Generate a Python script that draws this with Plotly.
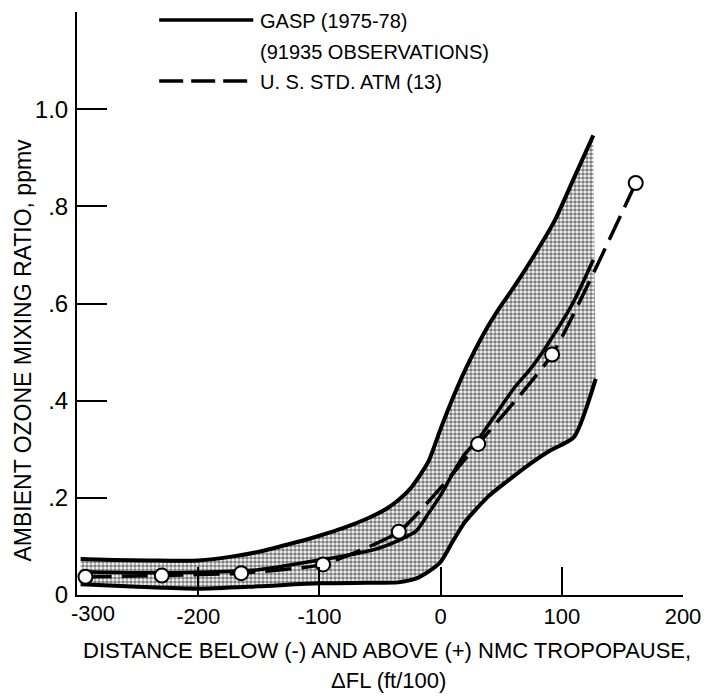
import plotly.graph_objects as go

# ---- data ----
upper_x = [-297, -270, -240, -200, -170, -150, -120, -100, -80, -60, -45, -35, -24, -10, 0, 10, 20, 36, 47, 60, 75, 94, 110, 126]
upper_y = [0.074, 0.072, 0.071, 0.071, 0.080, 0.089, 0.108, 0.122, 0.138, 0.158, 0.177, 0.195, 0.222, 0.275, 0.342, 0.405, 0.462, 0.54, 0.585, 0.632, 0.69, 0.77, 0.858, 0.946]

lower_x = [-297, -250, -200, -150, -100, -60, -35, -20, -10, 0, 10, 20, 39, 58, 75, 90, 110, 128]
lower_y = [0.022, 0.017, 0.013, 0.018, 0.024, 0.025, 0.026, 0.034, 0.048, 0.068, 0.11, 0.15, 0.202, 0.24, 0.272, 0.297, 0.325, 0.445]

gasp_x = [-297, -250, -200, -150, -100, -70, -50, -35, -20, -10, 0, 10, 20, 31, 45, 61, 75, 92, 110, 126]
gasp_y = [0.048, 0.046, 0.047, 0.052, 0.072, 0.085, 0.097, 0.112, 0.132, 0.168, 0.205, 0.25, 0.29, 0.32, 0.37, 0.427, 0.468, 0.53, 0.605, 0.69]

std_x = [-293, -230, -164.5, -97, -34.5, 31, 92, 161]
std_y = [0.0375, 0.040, 0.045, 0.063, 0.130, 0.311, 0.495, 0.848]

x_ticks = [-300, -200, -100, 0, 100, 200]
x_ticktext = ["", "-200", "-100", "0", "100", "200"]
x_first_label = "-300"
y_ticks = [0, 0.2, 0.4, 0.6, 0.8, 1.0]
y_ticktext = ["0", ".2", ".4", ".6", ".8", "1.0"]

legend_gasp = ["GASP (1975-78)", "(91935 OBSERVATIONS)"]
legend_std = "U. S. STD. ATM (13)"
x_title = ["DISTANCE BELOW (-) AND ABOVE (+) NMC TROPOPAUSE,", "ΔFL (ft/100)"]
y_title = "AMBIENT OZONE MIXING RATIO, ppmv"

FONT = "Liberation Sans, Arial, sans-serif"

fig = go.Figure()

# shaded envelope
fig.add_trace(go.Scatter(
    x=upper_x + lower_x[::-1], y=upper_y + lower_y[::-1],
    mode="lines", fill="toself", line=dict(width=0, color="rgba(0,0,0,0)"),
    fillcolor="rgba(0,0,0,0)",
    fillpattern=dict(shape=".", fgcolor="black", bgcolor="white", size=4, solidity=0.65),
    showlegend=False, hoverinfo="skip"))

for xs, ys in [(upper_x, upper_y), (lower_x, lower_y)]:
    fig.add_trace(go.Scatter(x=xs, y=ys, mode="lines", line=dict(color="black", width=4, shape="spline", smoothing=0.6),
                             showlegend=False))

fig.add_trace(go.Scatter(x=gasp_x, y=gasp_y, mode="lines",
                         line=dict(color="black", width=3.5, shape="spline", smoothing=0.6), showlegend=False))

fig.add_trace(go.Scatter(x=std_x, y=std_y, mode="lines+markers",
                         line=dict(color="black", width=3.5, dash="26px,10px", shape="spline", smoothing=0.5),
                         marker=dict(symbol="circle", size=14, color="white", line=dict(color="black", width=2)),
                         showlegend=False))

L, R, T, B = 77, 24, 12, 102
W, H = 713, 697
pw, ph = W - L - R, H - T - B

def px(xp):
    return (xp - L) / pw

def py(yp):
    return (H - B - yp) / ph

shapes = [
    dict(type="line", xref="paper", yref="paper", x0=px(160), x1=px(255), y0=py(20), y1=py(20),
         line=dict(color="black", width=3.5)),
    dict(type="line", xref="paper", yref="paper", x0=px(160), x1=px(255), y0=py(81), y1=py(81),
         line=dict(color="black", width=3.5, dash="24px,8px")),
]

annotations = [
    dict(text=legend_gasp[0], xref="paper", yref="paper", x=px(260), y=py(21), xanchor="left", yanchor="middle",
         showarrow=False, font=dict(family=FONT, size=20, color="black")),
    dict(text=legend_gasp[1], xref="paper", yref="paper", x=px(260), y=py(52), xanchor="left", yanchor="middle",
         showarrow=False, font=dict(family=FONT, size=20, color="black")),
    dict(text=legend_std, xref="paper", yref="paper", x=px(260), y=py(82), xanchor="left", yanchor="middle",
         showarrow=False, font=dict(family=FONT, size=20, color="black")),
    dict(text=x_title[0], xref="paper", yref="paper", x=px(390), y=py(651), xanchor="center", yanchor="middle",
         showarrow=False, font=dict(family=FONT, size=22, color="black")),
    dict(text=x_title[1], xref="paper", yref="paper", x=px(392), y=py(680), xanchor="center", yanchor="middle",
         showarrow=False, font=dict(family=FONT, size=22, color="black")),
    dict(text=y_title, xref="paper", yref="paper", x=px(22), y=py(350), xanchor="center", yanchor="middle",
         textangle=-90, showarrow=False, font=dict(family=FONT, size=23, color="black")),
    dict(text=x_first_label, xref="x", yref="paper", x=x_ticks[0], y=py(613), xanchor="center", yanchor="middle",
         xshift=16, showarrow=False, font=dict(family=FONT, size=22, color="black")),
]

fig.update_layout(
    width=W, height=H, margin=dict(l=L, r=R, t=T, b=B),
    paper_bgcolor="white", plot_bgcolor="white",
    shapes=shapes, annotations=annotations,
    xaxis=dict(range=[-300, 200], tickvals=x_ticks, ticktext=x_ticktext, ticks="inside", ticklen=28,
               tickwidth=2, tickcolor="black", showline=True, linewidth=2, linecolor="black",
               showgrid=False, zeroline=False, ticklabelstandoff=1,
               tickfont=dict(family=FONT, size=22, color="black")),
    yaxis=dict(range=[0, 1.2], tickvals=y_ticks, ticktext=y_ticktext, ticks="inside", ticklen=30,
               tickwidth=2, tickcolor="black", showline=True, linewidth=2, linecolor="black",
               showgrid=False, zeroline=False, ticklabelstandoff=2,
               tickfont=dict(family=FONT, size=24, color="black")),
)

fig.write_html("out.html")
